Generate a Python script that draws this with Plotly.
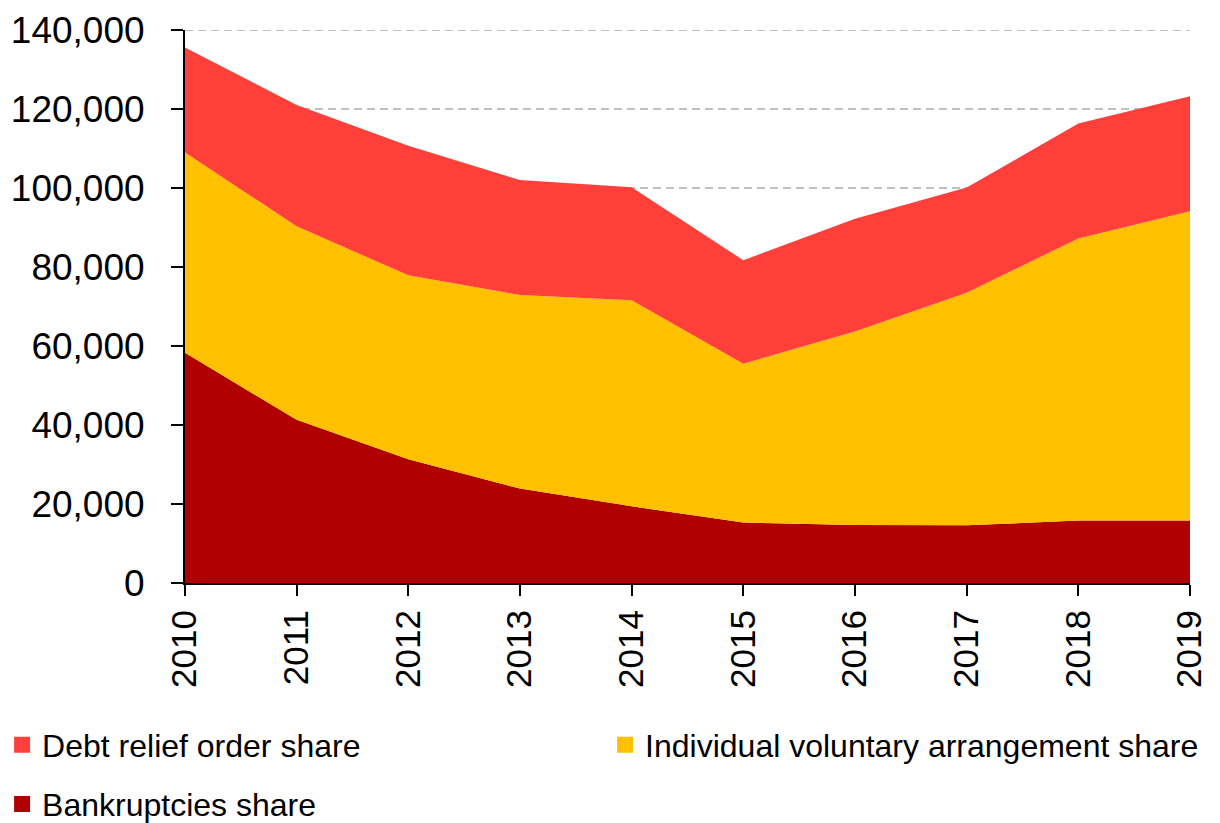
import plotly.graph_objects as go

years = [2010, 2011, 2012, 2013, 2014, 2015, 2016, 2017, 2018, 2019]
bankruptcies = [58300, 41300, 31300, 23900, 19400, 15300, 14700, 14600, 15800, 15800]
iva = [50700, 49000, 46600, 49000, 52200, 40200, 49000, 58900, 71400, 78300]
dro = [26600, 30700, 32800, 29100, 28600, 26200, 28500, 26600, 29100, 29100]

y_ticks = [0, 20000, 40000, 60000, 80000, 100000, 120000, 140000]
y_tick_text = ["0", "20,000", "40,000", "60,000", "80,000", "100,000", "120,000", "140,000"]

names = ["Bankruptcies share", "Individual voluntary arrangement share", "Debt relief order share"]
colors = ["#B00000", "#FFC000", "#FF403A"]
series = [bankruptcies, iva, dro]

FONT = "Arial, Liberation Sans, sans-serif"
GRID_DASH = "8px,5px"

fig = go.Figure()
for name, col, vals in zip(names, colors, series):
    fig.add_trace(go.Scatter(
        x=years, y=vals, name=name, mode="lines", stackgroup="one",
        line=dict(width=0, color=col), fillcolor=col, showlegend=False,
        hoverinfo="x+y+name",
    ))

# legend entries (square swatches), one legend box per entry for exact placement
legend_map = {"Debt relief order share": "legend",
              "Individual voluntary arrangement share": "legend2",
              "Bankruptcies share": "legend3"}
for name, col in [(names[2], colors[2]), (names[1], colors[1]), (names[0], colors[0])]:
    fig.add_trace(go.Scatter(
        x=[None], y=[None], mode="markers", name=name,
        marker=dict(symbol="square", size=21, color=col),
        legend=legend_map[name], showlegend=True,
    ))

# top gridline (at the edge of the range, where plotly drops its own grid line)
fig.add_shape(type="line", xref="paper", yref="y", x0=0, x1=1,
              y0=y_ticks[-1], y1=y_ticks[-1], layer="below",
              line=dict(color="#C0C0C0", width=2, dash=GRID_DASH))

leg_common = dict(orientation="h", xanchor="left", yanchor="middle",
                  font=dict(size=32, family=FONT), bgcolor="rgba(0,0,0,0)")

fig.update_layout(
    width=1212, height=815,
    margin=dict(l=177, r=30, t=22, b=240, autoexpand=False),
    paper_bgcolor="white", plot_bgcolor="white",
    font=dict(family=FONT, color="black"),
    legend=dict(x=-0.182, y=-0.293, **leg_common),
    legend2=dict(x=0.418, y=-0.293, **leg_common),
    legend3=dict(x=-0.182, y=-0.400, **leg_common),
    xaxis=dict(
        range=[2010, 2019], tickmode="array", tickvals=years, ticktext=[str(y) for y in years],
        tickangle=-90, tickfont=dict(size=35), ticks="outside", ticklen=11, tickwidth=2,
        tickcolor="black", showline=True, linecolor="black", linewidth=2,
        showgrid=False, zeroline=False, fixedrange=True, automargin=False,
    ),
    yaxis=dict(
        range=[0, 140000], tickmode="array", tickvals=y_ticks, ticktext=y_tick_text,
        tickfont=dict(size=37), ticks="outside", ticklen=12, tickwidth=2, tickcolor="black",
        showline=True, linecolor="black", linewidth=2, ticklabelstandoff=19,
        showgrid=True, gridcolor="#C0C0C0", gridwidth=2, griddash=GRID_DASH,
        zeroline=False, fixedrange=True, automargin=False,
    ),
)

fig.write_html("out.html")
